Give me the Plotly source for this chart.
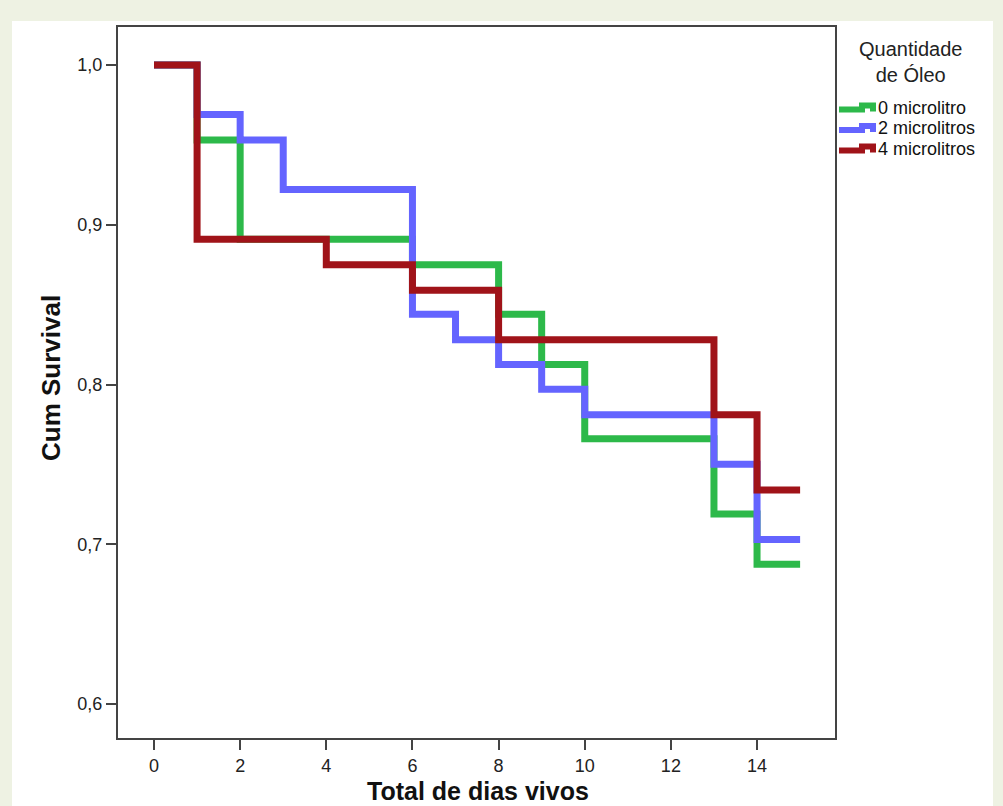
import plotly.graph_objects as go

# Kaplan-Meier step data (time, cumulative survival)
groups = ["0 microlitro", "2 microlitros", "4 microlitros"]

t_0 = [0, 1, 2, 6, 8, 9, 10, 13, 14, 15]
s_0 = [1.0, 0.953, 0.891, 0.875, 0.844, 0.8125, 0.766, 0.719, 0.6875, 0.6875]

t_2 = [0, 1, 2, 3, 6, 7, 8, 9, 10, 13, 14, 15]
s_2 = [1.0, 0.969, 0.953, 0.922, 0.844, 0.828, 0.8125, 0.797, 0.781, 0.75, 0.703, 0.703]

t_4 = [0, 1, 4, 6, 8, 13, 14, 15]
s_4 = [1.0, 0.891, 0.875, 0.859, 0.828, 0.781, 0.734, 0.734]

x_ticks = [0, 2, 4, 6, 8, 10, 12, 14]
y_ticks = [0.6, 0.7, 0.8, 0.9, 1.0]

legend_title = "Quantidade<br>de Óleo"
colors = ["#2db94a", "#6464ff", "#a01319"]

FONT = "Liberation Sans, Arial, sans-serif"

fig = go.Figure()
for name, t, s, c in zip(groups, [t_0, t_2, t_4], [s_0, s_2, s_4], colors):
    fig.add_trace(go.Scatter(x=t, y=s, mode="lines", name=name,
                             line=dict(color=c, width=7, shape="hv"),
                             showlegend=False))

# plot area in pixels: left 118, right 835, top 27, bottom 738
L, R, T, B = 118, 835, 27, 738
W, H = 1003, 806
def px(p):
    return (p - L) / (R - L)
def py(p):
    return (B - p) / (B - T)

shapes = [dict(type="rect", xref="paper", yref="paper",
               x0=px(12), x1=px(993), y0=py(21), y1=py(830),
               fillcolor="white", line=dict(width=0), layer="below")]
annotations = [
    dict(text="<b>Cum Survival</b>", xref="paper", yref="paper",
         x=px(51), y=py(378), xanchor="center", yanchor="middle",
         textangle=-90, showarrow=False,
         font=dict(family=FONT, size=26, color="#111")),
    dict(text="<b>Total de dias vivos</b>", xref="paper", yref="paper",
         x=px(478), y=py(806), xanchor="center", yanchor="bottom",
         showarrow=False, borderpad=0,
         font=dict(family=FONT, size=25, color="#111")),
    dict(text=legend_title, xref="paper", yref="paper",
         x=px(910), y=py(62), xanchor="center", yanchor="middle",
         showarrow=False, align="center",
         font=dict(family=FONT, size=20, color="#222")),
]

# legend (step-shaped icons like the original)
row_y = [107.5, 128, 148.5]
for name, c, yc in zip(groups, colors, row_y):
    path = "M {a},{b} L {c},{b} L {c},{d} L {e},{d} L {e},{f}".format(
        a=px(839), b=py(yc + 2), c=px(862), d=py(yc - 2), e=px(873), f=py(yc + 4))
    shapes.append(dict(type="path", xref="paper", yref="paper", path=path,
                       line=dict(color=c, width=6)))
    annotations.append(dict(text=name, xref="paper", yref="paper",
                            x=px(876), y=py(yc), xanchor="left", yanchor="middle",
                            showarrow=False,
                            font=dict(family=FONT, size=18, color="#111")))

fig.update_layout(
    width=W, height=H,
    margin=dict(l=L, r=W - R, t=T, b=H - B, pad=0),
    paper_bgcolor="#eef2e3",
    plot_bgcolor="white",
    separators=",.",
    font=dict(family=FONT, size=18, color="#222"),
    showlegend=False,
    xaxis=dict(
        range=[-0.836, 15.81], tickvals=x_ticks, ticks="outside", ticklen=10,
        tickwidth=2, tickcolor="#444", showline=True, linecolor="#444",
        linewidth=2, mirror=True, showgrid=False, zeroline=False,
        tickfont=dict(family=FONT, size=18, color="#222"),
    ),
    yaxis=dict(
        range=[0.5787, 1.0238], tickvals=y_ticks, tickformat=".1f",
        ticks="outside", ticklen=10, tickwidth=2, tickcolor="#444",
        showline=True, linecolor="#444", linewidth=2, mirror=True,
        showgrid=False, zeroline=False,
        tickfont=dict(family=FONT, size=18, color="#222"),
    ),
    shapes=shapes,
    annotations=annotations,
)

fig.write_html("out.html", config={"displayModeBar": False},
               post_script="document.body.style.margin='0';")
